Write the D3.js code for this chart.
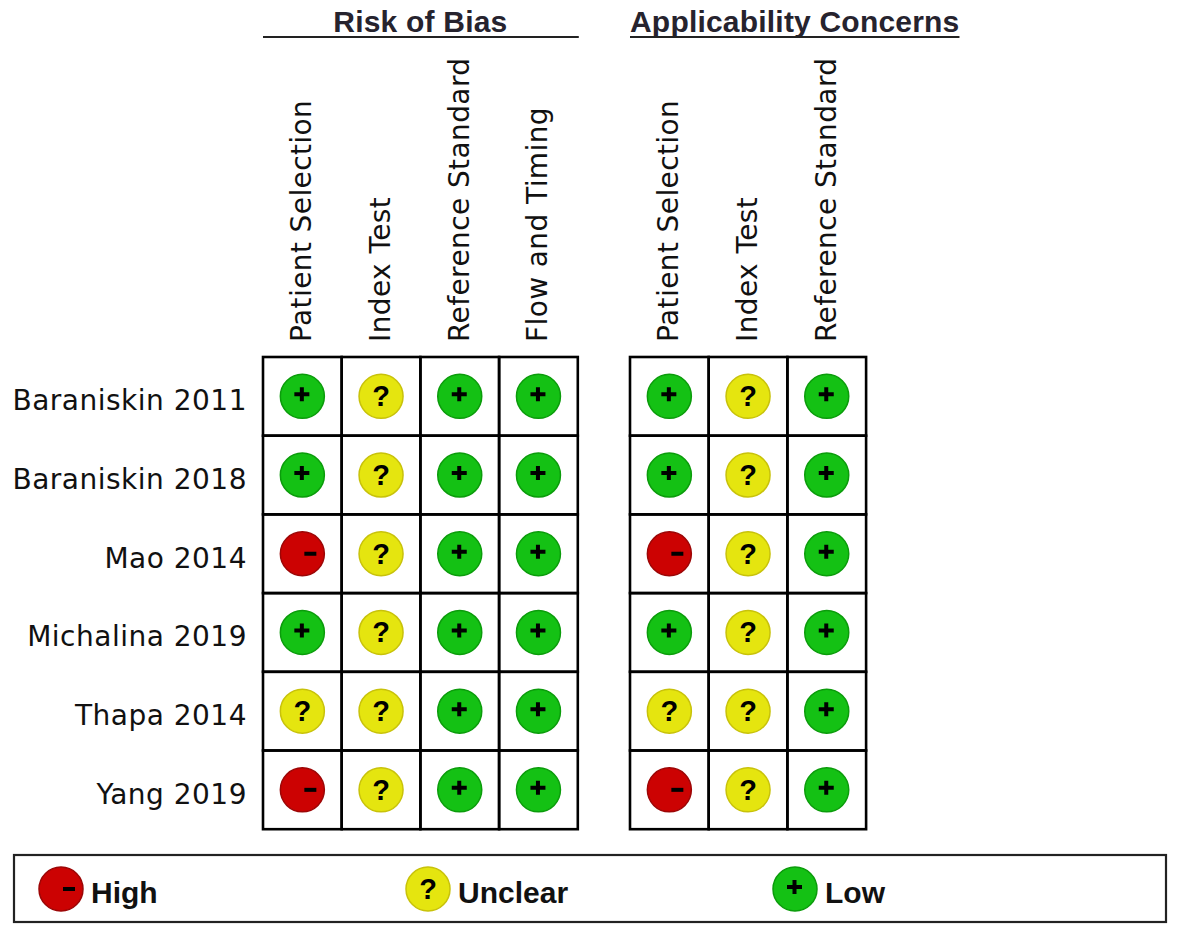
<!DOCTYPE html>
<html>
<head>
<meta charset="UTF-8">
<title>Risk of bias summary</title>
<style>
  body { margin: 0; background: #fff; }
  svg { display: block; }
</style>
</head>
<body>
<script src="https://d3js.org/d3.v7.min.js"></script>
<script>
var width = 1181, height = 929;

// data
var studies = ["Baraniskin 2011", "Baraniskin 2018", "Mao 2014", "Michalina 2019", "Thapa 2014", "Yang 2019"];
var biasDomains = ["Patient Selection", "Index Test", "Reference Standard", "Flow and Timing"];
var applicDomains = ["Patient Selection", "Index Test", "Reference Standard"];
// "+" low, "?" unclear, "-" high ; one row per study
var biasJudgements = [
  ["+", "?", "+", "+"],
  ["+", "?", "+", "+"],
  ["-", "?", "+", "+"],
  ["+", "?", "+", "+"],
  ["?", "?", "+", "+"],
  ["-", "?", "+", "+"]
];
var applicJudgements = [
  ["+", "?", "+"],
  ["+", "?", "+"],
  ["-", "?", "+"],
  ["+", "?", "+"],
  ["?", "?", "+"],
  ["-", "?", "+"]
];
var legendKeys = ["-", "?", "+"];
var legendLabels = ["High", "Unclear", "Low"];

var fill = { "+": "#14c114", "?": "#e5e50f", "-": "#cc0202" };
var edge = { "+": "#0b9c0b", "?": "#c8c20a", "-": "#9c0606" };

var cell = 78.7;
var gridTop = 357;

var svg = d3.select("body").append("svg")
  .attr("width", width)
  .attr("height", height);

var y = d3.scaleBand()
  .domain(studies)
  .range([gridTop, gridTop + studies.length * cell]);

// draws one symbol (circle with its sign) centred on cx, cy
function drawSymbol(g, key, cx, cy, r) {
  g.append("circle")
    .attr("cx", cx).attr("cy", cy).attr("r", r)
    .attr("fill", fill[key])
    .attr("stroke", edge[key])
    .attr("stroke-width", 1.5);
  if (key == "+") {
    g.append("path")
      .attr("d", "M" + (cx - 8) + "," + (cy - 2) + "h15M" + (cx - 0.5) + "," + (cy - 9) + "v14")
      .attr("stroke", "#000").attr("stroke-width", 4);
  } else if (key == "-") {
    g.append("path")
      .attr("d", "M" + (cx + 2) + "," + cy + "h12")
      .attr("stroke", "#000").attr("stroke-width", 4);
  } else {
    g.append("text")
      .attr("x", cx).attr("y", cy + 10)
      .attr("text-anchor", "middle")
      .style("font-family", "'Liberation Sans', Arial, sans-serif")
      .style("font-weight", "bold")
      .style("font-size", "29px")
      .text("?");
  }
}

function drawBlock(domains, judgements, x0, title, fullLine) {
  var x = d3.scaleBand()
    .domain(domains)
    .range([x0, x0 + domains.length * cell]);
  var g = svg.append("g");

  // column labels, rotated
  g.selectAll(".col")
    .data(domains)
    .enter().append("text")
    .attr("transform", function(d) {
      return "translate(" + (x(d) + x.bandwidth() / 2 + 9) + "," + 342 + ") rotate(-90)";
    })
    .style("font-family", "'DejaVu Sans', sans-serif")
    .style("font-size", "28px")
    .style("letter-spacing", "0.4px")
    .attr("fill", "#111")
    .text(function(d) { return d; });

  // cells
  studies.forEach(function(s, i) {
    domains.forEach(function(d, j) {
      g.append("rect")
        .attr("x", x(d)).attr("y", y(s))
        .attr("width", x.bandwidth()).attr("height", y.bandwidth())
        .attr("fill", "none")
        .attr("stroke", "#000")
        .attr("stroke-width", 2.6);
      drawSymbol(g, judgements[i][j], x(d) + x.bandwidth() / 2, y(s) + y.bandwidth() / 2, 22);
    });
  });

  // title with underline
  var r = x.range();
  var t = g.append("text")
    .attr("y", 32)
    .style("font-family", "'Liberation Sans', Arial, sans-serif")
    .style("font-weight", "bold")
    .style("font-size", "30px")
    .style("letter-spacing", "0.2px")
    .attr("fill", "#26232e")
    .text(title);
  if (fullLine) {
    t.attr("x", (r[0] + r[1]) / 2).attr("text-anchor", "middle");
    g.append("line")
      .attr("x1", r[0]).attr("x2", r[1] + 1)
      .attr("y1", 37).attr("y2", 37)
      .attr("stroke", "#222").attr("stroke-width", 2.2);
  } else {
    t.attr("x", r[0]);
    var len = t.node().getComputedTextLength();
    g.append("line")
      .attr("x1", r[0]).attr("x2", r[0] + len)
      .attr("y1", 37).attr("y2", 37)
      .attr("stroke", "#222").attr("stroke-width", 2.2);
  }
}

// row labels
svg.selectAll(".row")
  .data(studies)
  .enter().append("text")
  .attr("x", 247)
  .attr("y", function(d) { return y(d) + y.bandwidth() / 2 + 14; })
  .attr("text-anchor", "end")
  .style("font-family", "'DejaVu Sans', sans-serif")
  .style("font-size", "28px")
  .style("letter-spacing", "0.5px")
  .attr("fill", "#111")
  .text(function(d) { return d; });

drawBlock(biasDomains, biasJudgements, 263, "Risk of Bias", true);
drawBlock(applicDomains, applicJudgements, 630, "Applicability Concerns", false);

// legend
var legend = svg.append("g");
legend.append("rect")
  .attr("x", 14).attr("y", 855)
  .attr("width", 1152).attr("height", 67)
  .attr("fill", "none")
  .attr("stroke", "#222")
  .attr("stroke-width", 2.2);

var lx = d3.scalePoint()
  .domain(legendKeys)
  .range([61, 795]);

legendKeys.forEach(function(k, i) {
  drawSymbol(legend, k, lx(k), 889, 22);
  legend.append("text")
    .attr("x", lx(k) + 30)
    .attr("y", 903)
    .style("font-family", "'Liberation Sans', Arial, sans-serif")
    .style("font-weight", "bold")
    .style("font-size", "30px")
    .attr("fill", "#111")
    .text(legendLabels[i]);
});
</script>
</body>
</html>
